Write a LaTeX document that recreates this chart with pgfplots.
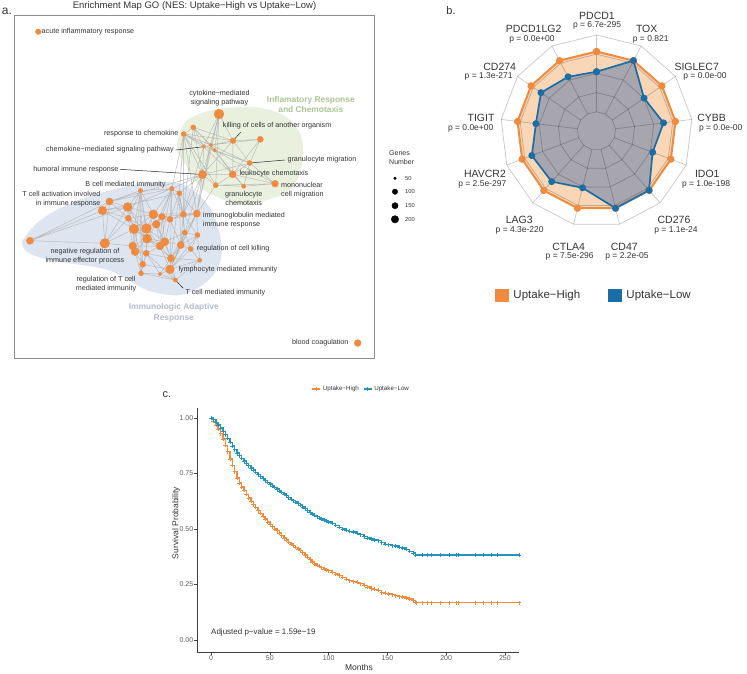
\documentclass[border=0pt]{standalone}
\usepackage{pgfplots}
\pgfplotsset{compat=1.18}
\usepgfplotslibrary{polar}
\usepackage{fontspec}
\setmainfont{Liberation Sans}

\definecolor{txt}{HTML}{333333}
\definecolor{nodeor}{HTML}{F08A3E}
\definecolor{edgegr}{HTML}{BBBBBB}
\definecolor{blobblue}{HTML}{DDE5F1}
\definecolor{blobgreen}{HTML}{E9F1DE}
\definecolor{grnlab}{HTML}{ABC392}
\definecolor{blulab}{HTML}{B5BBCE}
\definecolor{hiOr}{HTML}{F08A3E}
\definecolor{loBl}{HTML}{1B6DA6}
\definecolor{radarfill}{HTML}{F9D6B6}
\definecolor{greyfill}{HTML}{A7A6AE}
\definecolor{kmOr}{HTML}{F28A3A}
\definecolor{kmBl}{HTML}{2393BE}

\newcommand{\fs}[2]{\fontsize{#1}{#2}\selectfont}

% survival curves (months, survival probability)
\pgfplotstableread{
m s
0 1.000
2 0.985
4 0.968
6 0.950
8 0.930
10 0.905
12 0.877
14 0.848
16 0.815
18 0.787
20 0.758
22 0.730
24 0.708
26 0.690
28 0.674
30 0.656
32 0.640
34 0.625
36 0.610
38 0.597
40 0.583
42 0.570
44 0.557
46 0.545
48 0.532
50 0.520
52 0.510
54 0.500
56 0.492
58 0.482
60 0.470
62 0.460
64 0.450
66 0.440
68 0.432
70 0.425
72 0.418
74 0.410
76 0.402
78 0.393
80 0.383
82 0.372
84 0.362
86 0.352
88 0.343
90 0.337
92 0.332
94 0.326
96 0.320
98 0.316
100 0.312
103 0.305
106 0.298
109 0.290
112 0.282
115 0.273
118 0.267
121 0.263
124 0.260
127 0.254
130 0.246
133 0.238
136 0.232
139 0.228
142 0.224
145 0.214
148 0.210
151 0.208
154 0.204
157 0.200
160 0.196
163 0.194
166 0.190
169 0.184
172 0.178
174 0.172
175 0.168
180 0.168
184.2 0.168
187.6 0.168
194.7 0.168
202.6 0.168
208.3 0.168
210.3 0.168
224.4 0.168
231.5 0.168
238 0.168
243.7 0.168
262 0.168
}\kmhigh
\pgfplotstableread{
m s
0 1.000
2 0.992
4 0.981
6 0.968
8 0.955
10 0.940
12 0.925
14 0.908
16 0.890
18 0.873
20 0.857
22 0.843
24 0.830
26 0.818
28 0.806
30 0.795
32 0.785
34 0.775
36 0.765
38 0.755
40 0.745
42 0.736
44 0.727
46 0.718
48 0.710
50 0.702
52 0.694
54 0.687
56 0.680
58 0.672
60 0.665
62 0.658
64 0.650
66 0.641
68 0.634
70 0.628
72 0.622
74 0.615
76 0.608
78 0.600
80 0.592
82 0.583
84 0.575
86 0.568
88 0.562
90 0.556
92 0.550
94 0.545
96 0.540
98 0.536
100 0.532
103 0.525
106 0.517
109 0.508
112 0.500
115 0.494
118 0.490
121 0.487
124 0.480
127 0.474
130 0.466
133 0.460
136 0.455
139 0.450
142 0.447
145 0.438
148 0.431
151 0.429
154 0.425
157 0.423
160 0.418
163 0.414
166 0.408
169 0.400
172 0.392
174 0.383
180 0.383
184.2 0.383
187.6 0.383
194.7 0.383
202.6 0.383
208.3 0.383
210.3 0.383
224.4 0.383
231.5 0.383
238 0.383
243.7 0.383
262 0.383
}\kmlow

% enrichment map nodes: position and radius
\pgfplotstableread{
x y r
38.3 31.7 2.8
357.7 343 3.4
219 114 4.9
193.3 127.3 2.5
183.7 134 2.5
233 140.7 2.8
260.3 139.3 3.0
203.7 146.7 1.7
210.7 145 1.9
214.7 150.3 1.9
249.7 163 2.5
202.5 174.5 4.1
232.7 174.3 3.5
215.7 185.2 2.5
243.7 186.3 2.1
275 183.7 3.4
140.5 190.5 2.1
171.8 188.7 2.3
179.3 193.3 2.5
109.5 201.5 3.6
127.7 207 4.5
102.5 210.5 4.3
128.3 218.3 3.0
153.3 214.3 4.5
162 216.7 3.4
170 219.3 3.0
183.3 214.3 3.0
196.8 213.6 3.6
134 229 4.8
146.5 228.5 4.8
156.3 224.3 3.9
147 238.7 4.5
184.7 232.7 2.5
197.5 235 2.5
30 240.7 3.6
104.8 243.3 4.8
132.7 246 3.9
135 251.7 3.9
146.3 253.3 3.0
160 246 3.9
165 241.7 3.9
180.7 245 3.6
190.7 249 2.5
171 258.3 3.6
199.7 260.3 2.1
142.7 264.3 3.0
170 269.3 4.3
141 273.3 2.5
160 274 1.8
175.3 280 2.1
}\netnodes

\pgfplotstableread{
x y r
395 178.3 1.3
395 191.7 2.7
395 205.7 3.1
395 219.3 3.7
}\genelegend

\begin{document}
\begin{tikzpicture}
\useasboundingbox (0pt,0pt) rectangle (747pt,-673pt);

%================ a. enrichment map ================
\begin{axis}[
  at={(14pt,-358.3pt)}, anchor=south west,
  scale only axis, width=360.3pt, height=343.3pt,
  xmin=14, xmax=374.3, ymin=15, ymax=358.3, y dir=reverse,
  enlargelimits=false, ticks=none, clip=false,
  axis line style={draw=black!45, line width=0.8pt},
]
\addplot[fill=blobgreen, draw=none, smooth, tension=0.6] coordinates {
 (180,133) (187,120) (213,110) (253,107) (283,115) (300,133) (303,153)
 (300,173) (290,190) (267,200) (240,204) (217,197) (200,187) (187,167)
 (177,150) (180,133)};
\addplot[fill=blobblue, draw=none, smooth, tension=0.6] coordinates {
 (21.7,241.7) (36.7,223.3) (63,206.7) (100,193) (140,184) (173,182)
 (195,192) (213,213) (221.7,246.7) (216.7,270) (200,286.7) (180,295)
 (157,293) (140,287) (120,275) (100,268) (50,260) (26.7,251.7) (21.7,241.7)};
% similarity edges
\addplot[edgegr, line width=0.5pt, unbounded coords=jump] coordinates {
(219,114) (203.7,146.7) (nan,nan) (219,114) (210.7,145) (nan,nan)
(219,114) (214.7,150.3) (nan,nan) (219,114) (202.5,174.5) (nan,nan)
(219,114) (233,140.7) (nan,nan) (219,114) (215.7,185.2) (nan,nan)
(219,114) (196.8,213.6) (nan,nan) (193.3,127.3) (183.7,134) (nan,nan)
(193.3,127.3) (203.7,146.7) (nan,nan) (193.3,127.3) (210.7,145) (nan,nan)
(193.3,127.3) (233,140.7) (nan,nan) (193.3,127.3) (202.5,174.5) (nan,nan)
(193.3,127.3) (214.7,150.3) (nan,nan) (183.7,134) (203.7,146.7) (nan,nan)
(183.7,134) (210.7,145) (nan,nan) (183.7,134) (214.7,150.3) (nan,nan)
(183.7,134) (233,140.7) (nan,nan) (183.7,134) (202.5,174.5) (nan,nan)
(183.7,134) (215.7,185.2) (nan,nan) (183.7,134) (196.8,213.6) (nan,nan)
(183.7,134) (171.8,188.7) (nan,nan) (183.7,134) (179.3,193.3) (nan,nan)
(183.7,134) (183.3,214.3) (nan,nan) (233,140.7) (260.3,139.3) (nan,nan)
(233,140.7) (203.7,146.7) (nan,nan) (233,140.7) (210.7,145) (nan,nan)
(233,140.7) (249.7,163) (nan,nan) (233,140.7) (232.7,174.3) (nan,nan)
(233,140.7) (202.5,174.5) (nan,nan) (260.3,139.3) (249.7,163) (nan,nan)
(260.3,139.3) (232.7,174.3) (nan,nan) (260.3,139.3) (210.7,145) (nan,nan)
(203.7,146.7) (202.5,174.5) (nan,nan) (203.7,146.7) (232.7,174.3) (nan,nan)
(203.7,146.7) (249.7,163) (nan,nan) (210.7,145) (249.7,163) (nan,nan)
(210.7,145) (232.7,174.3) (nan,nan) (210.7,145) (202.5,174.5) (nan,nan)
(214.7,150.3) (232.7,174.3) (nan,nan) (214.7,150.3) (249.7,163) (nan,nan)
(214.7,150.3) (275,183.7) (nan,nan) (214.7,150.3) (243.7,186.3) (nan,nan)
(249.7,163) (232.7,174.3) (nan,nan) (249.7,163) (243.7,186.3) (nan,nan)
(249.7,163) (275,183.7) (nan,nan) (202.5,174.5) (232.7,174.3) (nan,nan)
(202.5,174.5) (215.7,185.2) (nan,nan) (202.5,174.5) (196.8,213.6) (nan,nan)
(202.5,174.5) (183.3,214.3) (nan,nan) (202.5,174.5) (179.3,193.3) (nan,nan)
(202.5,174.5) (171.8,188.7) (nan,nan) (202.5,174.5) (184.7,232.7) (nan,nan)
(232.7,174.3) (215.7,185.2) (nan,nan) (232.7,174.3) (243.7,186.3) (nan,nan)
(232.7,174.3) (275,183.7) (nan,nan) (215.7,185.2) (243.7,186.3) (nan,nan)
(215.7,185.2) (196.8,213.6) (nan,nan) (243.7,186.3) (275,183.7) (nan,nan)
(215.7,185.2) (275,183.7) (nan,nan) (202.5,174.5) (249.7,163) (nan,nan)
(109.5,201.5) (171.8,188.7) (nan,nan) (109.5,201.5) (202.5,174.5) (nan,nan)
(102.5,210.5) (179.3,193.3) (nan,nan) (127.7,207) (140.5,190.5) (nan,nan)
(127.7,207) (171.8,188.7) (nan,nan) (30,240.7) (109.5,201.5) (nan,nan)
(30,240.7) (127.7,207) (nan,nan) (30,240.7) (104.8,243.3) (nan,nan)
(30,240.7) (102.5,210.5) (nan,nan) (104.8,243.3) (127.7,207) (nan,nan)
(104.8,243.3) (102.5,210.5) (nan,nan) (104.8,243.3) (109.5,201.5) (nan,nan)
(104.8,243.3) (134,229) (nan,nan) (104.8,243.3) (132.7,246) (nan,nan)
(104.8,243.3) (128.3,218.3) (nan,nan) (109.5,201.5) (127.7,207) (nan,nan)
(109.5,201.5) (102.5,210.5) (nan,nan) (102.5,210.5) (127.7,207) (nan,nan)
(102.5,210.5) (128.3,218.3) (nan,nan) (102.5,210.5) (134,229) (nan,nan)
(109.5,201.5) (140.5,190.5) (nan,nan) (140.5,190.5) (128.3,218.3) (nan,nan)
(140.5,190.5) (153.3,214.3) (nan,nan) (140.5,190.5) (134,229) (nan,nan)
(140.5,190.5) (146.5,228.5) (nan,nan) (140.5,190.5) (147,238.7) (nan,nan)
(140.5,190.5) (135,251.7) (nan,nan) (140.5,190.5) (141,273.3) (nan,nan)
(140.5,190.5) (142.7,264.3) (nan,nan) (171.8,188.7) (179.3,193.3) (nan,nan)
(171.8,188.7) (153.3,214.3) (nan,nan) (171.8,188.7) (162,216.7) (nan,nan)
(171.8,188.7) (170,219.3) (nan,nan) (171.8,188.7) (156.3,224.3) (nan,nan)
(171.8,188.7) (160,246) (nan,nan) (171.8,188.7) (170,269.3) (nan,nan)
(171.8,188.7) (183.3,214.3) (nan,nan) (179.3,193.3) (183.3,214.3) (nan,nan)
(179.3,193.3) (196.8,213.6) (nan,nan) (179.3,193.3) (170,219.3) (nan,nan)
(179.3,193.3) (184.7,232.7) (nan,nan) (179.3,193.3) (180.7,245) (nan,nan)
(179.3,193.3) (171,258.3) (nan,nan) (196.8,213.6) (183.3,214.3) (nan,nan)
(196.8,213.6) (184.7,232.7) (nan,nan) (196.8,213.6) (197.5,235) (nan,nan)
(196.8,213.6) (170,219.3) (nan,nan) (196.8,213.6) (180.7,245) (nan,nan)
(196.8,213.6) (170,269.3) (nan,nan) (197.5,235) (184.7,232.7) (nan,nan)
(197.5,235) (190.7,249) (nan,nan) (197.5,235) (199.7,260.3) (nan,nan)
(197.5,235) (180.7,245) (nan,nan) (190.7,249) (180.7,245) (nan,nan)
(190.7,249) (199.7,260.3) (nan,nan) (190.7,249) (170,269.3) (nan,nan)
(190.7,249) (184.7,232.7) (nan,nan) (199.7,260.3) (170,269.3) (nan,nan)
(199.7,260.3) (175.3,280) (nan,nan) (199.7,260.3) (171,258.3) (nan,nan)
(175.3,280) (170,269.3) (nan,nan) (175.3,280) (160,274) (nan,nan)
(175.3,280) (141,273.3) (nan,nan) (175.3,280) (171,258.3) (nan,nan)
(175.3,280) (146.3,253.3) (nan,nan) (141,273.3) (142.7,264.3) (nan,nan)
(141,273.3) (160,274) (nan,nan) (141,273.3) (146.3,253.3) (nan,nan)
(141,273.3) (135,251.7) (nan,nan) (160,274) (170,269.3) (nan,nan)
(160,274) (146.3,253.3) (nan,nan) (160,274) (171,258.3) (nan,nan)
(128.3,218.3) (134,229) (nan,nan) (128.3,218.3) (153.3,214.3) (nan,nan)
(128.3,218.3) (146.5,228.5) (nan,nan) (128.3,218.3) (147,238.7) (nan,nan)
(153.3,214.3) (162,216.7) (nan,nan) (153.3,214.3) (146.5,228.5) (nan,nan)
(153.3,214.3) (156.3,224.3) (nan,nan) (153.3,214.3) (134,229) (nan,nan)
(162,216.7) (170,219.3) (nan,nan) (162,216.7) (156.3,224.3) (nan,nan)
(162,216.7) (146.5,228.5) (nan,nan) (170,219.3) (183.3,214.3) (nan,nan)
(170,219.3) (156.3,224.3) (nan,nan) (170,219.3) (165,241.7) (nan,nan)
(183.3,214.3) (184.7,232.7) (nan,nan) (183.3,214.3) (156.3,224.3) (nan,nan)
(134,229) (146.5,228.5) (nan,nan) (134,229) (147,238.7) (nan,nan)
(134,229) (132.7,246) (nan,nan) (134,229) (135,251.7) (nan,nan)
(146.5,228.5) (156.3,224.3) (nan,nan) (146.5,228.5) (147,238.7) (nan,nan)
(146.5,228.5) (160,246) (nan,nan) (156.3,224.3) (165,241.7) (nan,nan)
(156.3,224.3) (160,246) (nan,nan) (147,238.7) (132.7,246) (nan,nan)
(147,238.7) (135,251.7) (nan,nan) (147,238.7) (146.3,253.3) (nan,nan)
(147,238.7) (160,246) (nan,nan) (147,238.7) (165,241.7) (nan,nan)
(184.7,232.7) (165,241.7) (nan,nan) (184.7,232.7) (180.7,245) (nan,nan)
(132.7,246) (135,251.7) (nan,nan) (132.7,246) (146.3,253.3) (nan,nan)
(135,251.7) (146.3,253.3) (nan,nan) (135,251.7) (142.7,264.3) (nan,nan)
(146.3,253.3) (160,246) (nan,nan) (146.3,253.3) (142.7,264.3) (nan,nan)
(146.3,253.3) (171,258.3) (nan,nan) (160,246) (165,241.7) (nan,nan)
(160,246) (171,258.3) (nan,nan) (165,241.7) (180.7,245) (nan,nan)
(165,241.7) (171,258.3) (nan,nan) (180.7,245) (171,258.3) (nan,nan)
(180.7,245) (170,269.3) (nan,nan) (171,258.3) (170,269.3) (nan,nan)
(142.7,264.3) (170,269.3) (nan,nan) (134,229) (160,246) (nan,nan)
(153.3,214.3) (147,238.7) (nan,nan) (162,216.7) (165,241.7) (nan,nan)
(156.3,224.3) (147,238.7) (nan,nan) (146.5,228.5) (165,241.7) (nan,nan)
(132.7,246) (160,246) (nan,nan) (170,219.3) (180.7,245) (nan,nan)
(183.3,214.3) (180.7,245) (nan,nan) (127.7,207) (153.3,214.3) (nan,nan)
(127.7,207) (134,229) (nan,nan) (127.7,207) (146.5,228.5) (nan,nan)
(128.3,218.3) (132.7,246) (nan,nan) (146.5,228.5) (146.3,253.3) (nan,nan)
(156.3,224.3) (171,258.3) (nan,nan) (160,246) (170,269.3) (nan,nan)
(147,238.7) (171,258.3) (nan,nan) (153.3,214.3) (170,219.3) (nan,nan)
(162,216.7) (160,246) (nan,nan) (184.7,232.7) (171,258.3) (nan,nan)
(183.3,214.3) (197.5,235) (nan,nan) (184.7,232.7) (170,269.3) (nan,nan)
(134,229) (142.7,264.3) (nan,nan) (127.7,207) (128.3,218.3) (nan,nan)
(140.5,190.5) (171.8,188.7) (nan,nan) (153.3,214.3) (196.8,213.6) (nan,nan)
(162,216.7) (196.8,213.6) (nan,nan) (197.5,235) (170,269.3) (nan,nan)
(109.5,201.5) (128.3,218.3) (nan,nan) (127.7,207) (147,238.7) (nan,nan)
(203.7,146.7) (183.3,214.3) (nan,nan) (210.7,145) (196.8,213.6) (nan,nan)
(193.3,127.3) (183.3,214.3)};
% label leaders
\addplot[black!85, line width=0.5pt, unbounded coords=jump] coordinates {
(233,140.7) (240.7,132.3) (nan,nan)
(175.7,150) (203.7,146.7) (nan,nan)
(249.7,163) (285,160) (nan,nan)
(120,169.3) (202.5,174.5) (nan,nan)
(175.3,280) (183.3,288.3)};
% gene-set nodes
\addplot[scatter, only marks, mark=*, point meta=\thisrow{r},
  scatter/use mapped color={draw=nodeor, fill=nodeor},
  visualization depends on={\thisrow{r}\as\rr},
  scatter/@pre marker code/.append style={/tikz/mark size=\rr}]
  table[x=x, y=y] {\netnodes};
% size key
\addplot[scatter, only marks, mark=*, point meta=\thisrow{r},
  scatter/use mapped color={draw=black, fill=black},
  visualization depends on={\thisrow{r}\as\rr},
  scatter/@pre marker code/.append style={/tikz/mark size=\rr}]
  table[x=x, y=y] {\genelegend};
\end{axis}

%================ b. radar chart ================
\begin{axis}[
  at={(596.5pt,-131pt)}, anchor=center,
  scale only axis, width=200pt, height=200pt,
  xmin=-100, xmax=100, ymin=-100, ymax=100,
  hide axis, clip=false, data cs=polar,
  legend style={at={(axis description cs:0.4875,-0.3225)}, anchor=center,
    draw=none, fill=none, legend columns=2, font=\fs{11.5}{13},
    /tikz/every even column/.append style={column sep=26pt},
    text=txt},
  legend image code/.code={\fill[#1, draw=none] (0pt,-6.7pt) rectangle (13.4pt,6.7pt);
    \path (16pt,0pt);},
]
% group areas
\addplot[forget plot, fill=radarfill, draw=none] coordinates {
 (90,79.5) (62.308,79.5) (34.615,79.5) (6.923,79.5) (-20.769,79.5)
 (-48.462,79.5) (-76.154,79.5) (-103.846,79.5) (-131.538,79.5)
 (-159.231,79.5) (173.077,79.5) (145.385,79.5) (117.692,79.5) (90,79.5)};
\addplot[forget plot, fill=greyfill, draw=none] coordinates {
 (90,59.3) (62.308,79.5) (34.615,57.8) (6.923,67.5) (-20.769,60)
 (-48.462,79.2) (-76.154,79.5) (-103.846,58.5) (-131.538,67.6)
 (-159.231,69.2) (173.077,61) (145.385,67.5) (117.692,61.2) (90,59.3)};
% grid rings
\pgfplotsinvokeforeach{19.2,38.4,57.6,76.8,96}{
\addplot[forget plot, black, opacity=0.22, line width=0.7pt] coordinates {
 (90,#1) (62.308,#1) (34.615,#1) (6.923,#1) (-20.769,#1)
 (-48.462,#1) (-76.154,#1) (-103.846,#1) (-131.538,#1)
 (-159.231,#1) (173.077,#1) (145.385,#1) (117.692,#1) (90,#1)};
}
% spokes
\pgfplotsinvokeforeach{90,62.308,34.615,6.923,-20.769,-48.462,-76.154,-103.846,-131.538,-159.231,173.077,145.385,117.692}{
\addplot[forget plot, black, opacity=0.22, line width=0.7pt] coordinates {(#1,19.2) (#1,96)};
}
% group outlines
\addplot[forget plot, hiOr, line width=2pt, mark=*, mark size=2.6pt,
  mark options={fill=hiOr, draw=none}] coordinates {
 (90,79.5) (62.308,79.5) (34.615,79.5) (6.923,79.5) (-20.769,79.5)
 (-48.462,79.5) (-76.154,79.5) (-103.846,79.5) (-131.538,79.5)
 (-159.231,79.5) (173.077,79.5) (145.385,79.5) (117.692,79.5) (90,79.5)};
\addplot[forget plot, loBl, line width=1.7pt, mark=*, mark size=2.6pt,
  mark options={fill=loBl, draw=none}] coordinates {
 (90,59.3) (62.308,79.5) (34.615,57.8) (6.923,67.5) (-20.769,60)
 (-48.462,79.2) (-76.154,79.5) (-103.846,58.5) (-131.538,67.6)
 (-159.231,69.2) (173.077,61) (145.385,67.5) (117.692,61.2) (90,59.3)};
\addlegendimage{fill=hiOr}
\addlegendentry{Uptake−High}
\addlegendimage{fill=loBl}
\addlegendentry{Uptake−Low}
\end{axis}

%================ c. survival curves ================
\begin{axis}[
  at={(197pt,-652pt)}, anchor=south west,
  scale only axis, width=322pt, height=244pt,
  xmin=-12, xmax=262, ymin=-0.054, ymax=1.045,
  axis x line*=bottom, axis y line*=left,
  axis line style={draw=black!75, line width=0.7pt, -},
  xtick={0,50,100,150,200,250},
  ytick={0,0.25,0.5,0.75,1},
  yticklabels={0.00,0.25,0.50,0.75,1.00},
  tick align=outside, major tick length=2.6pt,
  tick style={black!75, line width=0.6pt},
  /pgf/number format/assume math mode=true,
  ticklabel style={font=\fs{7}{8}, text=black!65},
  xticklabel style={inner sep=1pt},
  yticklabel style={inner sep=1pt},
  xlabel={Months}, ylabel={Survival Probability},
  label style={font=\fs{8.5}{10}, text=txt},
  xlabel style={at={(axis description cs:0.503,-0.0615)}, anchor=center},
  ylabel style={at={(axis description cs:-0.065,0.529)}, anchor=center},
  legend style={at={(axis description cs:0.51,1.078)}, anchor=center,
    draw=none, fill=none, legend columns=2, font=\fs{6.2}{7}, text=txt,
    /tikz/every even column/.append style={column sep=2pt}},
  legend image code/.code={\draw[#1, mark repeat=2, mark phase=2]
    plot coordinates {(0pt,0pt) (4pt,0pt) (8pt,0pt)};},
]
\addplot[kmOr, line width=1.4pt, const plot, mark=+, mark size=2pt,
  mark options={line width=0.6pt}] table[x=m, y=s] {\kmhigh};
\addlegendentry{Uptake−High}
\addplot[kmBl, line width=1.4pt, const plot, mark=+, mark size=2pt,
  mark options={line width=0.6pt}] table[x=m, y=s] {\kmlow};
\addlegendentry{Uptake−Low}
\end{axis}

%================ text ================
\begin{scope}[x=1pt, y=-1pt, every node/.style={inner sep=0pt, text=txt}]
% panel letters and title
\node[font=\fs{12}{13}] at (7,11) {a.};
\node[font=\fs{11}{12}] at (451,11) {b.};
\node[font=\fs{11}{12}] at (167,395) {c.};
\node[font=\fs{9.5}{11}] at (194.5,6.5) {Enrichment Map GO (NES: Uptake−High vs Uptake−Low)};

% enrichment map labels
\begin{scope}[every node/.append style={font=\fs{7.2}{9}}]
\node[anchor=west] at (41.5,31.7) {acute inflammatory response};
\node[align=center] at (219.5,98.5) {cytokine−mediated\\signaling pathway};
\node[anchor=west] at (222.7,125.7) {killing of cells of another organism};
\node[anchor=east] at (178.7,133.3) {response to chemokine};
\node[anchor=east] at (174,150) {chemokine−mediated signaling pathway};
\node[anchor=west] at (287.3,159.7) {granulocyte migration};
\node[anchor=east] at (118.7,169.3) {humoral immune response};
\node[anchor=west] at (239.3,173.7) {leukocyte chemotaxis};
\node[anchor=east] at (165.7,184.3) {B cell mediated immunity};
\node[align=center] at (243.7,198) {granulocyte\\chemotaxis};
\node[align=left, anchor=west] at (281,190.5) {mononuclear\\cell migration};
\node[align=right, anchor=east] at (100.7,198.7) {T cell activation involved\\in immune response};
\node[align=left, anchor=west] at (202.7,220.5) {immunoglobulin mediated\\immune response};
\node[align=center] at (85,256.2) {negative regulation of\\immune effector process};
\node[anchor=west] at (196.7,248.7) {regulation of cell killing};
\node[anchor=west] at (178.3,270) {lymphocyte mediated immunity};
\node[align=center] at (106,284.5) {regulation of T cell\\mediated immunity};
\node[anchor=west] at (185.3,292.3) {T cell mediated immunity};
\node[anchor=east] at (348.7,343) {blood coagulation};
\end{scope}
\node[align=center, font=\bfseries\fs{8.4}{10.5}, text=grnlab] at (310.8,104.3) {Inflamatory Response\\and Chemotaxis};
\node[align=center, font=\bfseries\fs{8.4}{10.5}, text=blulab] at (173.8,313) {Immunologic Adaptive\\Response};
\node[align=left, anchor=west, font=\fs{7}{9}] at (389,157.8) {Genes\\Number};
\begin{scope}[every node/.append style={font=\fs{5.8}{7}, anchor=west}]
\node at (405,178.3) {50};
\node at (405,191.7) {100};
\node at (405,205.7) {150};
\node at (405,219.3) {200};
\end{scope}

% radar axis labels
\begin{scope}[every node/.append style={font=\fs{10.5}{12}}]
\node at (597,15.7) {PDCD1};
\node at (646.7,29) {TOX};
\node at (696.7,66.7) {SIGLEC7};
\node at (711.7,118.3) {CYBB};
\node at (707.3,174) {IDO1};
\node at (674,220) {CD276};
\node at (624.3,247.3) {CD47};
\node at (568.7,247.3) {CTLA4};
\node at (519.3,220) {LAG3};
\node at (485,174) {HAVCR2};
\node at (481,118.3) {TIGIT};
\node at (499.7,66.7) {CD274};
\node at (533.7,29) {PDCD1LG2};
\end{scope}
\begin{scope}[every node/.append style={font=\fs{8.5}{10}}]
\node at (597,25.7) {p = 6.7e-295};
\node at (650.7,39) {p = 0.821};
\node at (705,76) {p = 0.0e-00};
\node at (720.7,128.3) {p = 0.0e-00};
\node at (706,184) {p = 1.0e-198};
\node at (676,230) {p = 1.1e-24};
\node at (627,256.7) {p = 2.2e-05};
\node at (569.7,256.7) {p = 7.5e-296};
\node at (519.7,230) {p = 4.3e-220};
\node at (482.3,184) {p = 2.5e-297};
\node at (470.7,128.3) {p = 0.0e+00};
\node at (488.7,76) {p = 1.3e-271};
\node at (532,39) {p = 0.0e+00};
\end{scope}

% survival annotation
\node[anchor=west, font=\fs{8}{9}] at (211,632) {Adjusted p−value = 1.59e−19};
\end{scope}
\end{tikzpicture}
\end{document}
